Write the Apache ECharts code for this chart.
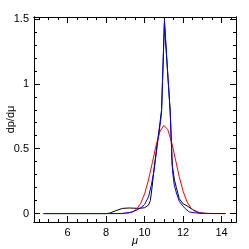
<!DOCTYPE html>
<html>
<head>
<meta charset="utf-8">
<script src="https://cdn.jsdelivr.net/npm/echarts@6/dist/echarts.min.js"></script>
<style>html,body{margin:0;padding:0;background:#fff}#c{width:249px;height:249px}</style>
</head>
<body>
<div id="c"></div>
<script>
// x positions and values
var blackX = [4.75, 8.0, 8.2, 8.5, 8.85, 9.2, 9.7, 10.0, 10.2, 10.3, 10.4, 10.5, 10.65, 10.8, 10.88, 11.03, 11.18, 11.33, 11.43, 11.55, 11.65, 11.8, 12.0, 12.2, 12.5, 12.85, 13.2, 14.2];
var blackY = [0, 0, 0.004, 0.022, 0.04, 0.043, 0.04, 0.045, 0.065, 0.1, 0.22, 0.36, 0.53, 0.7, 0.8, 1.47, 1.12, 0.79, 0.38, 0.26, 0.2, 0.115, 0.075, 0.06, 0.03, 0.006, 0.001, 0];
var redX = [4.75, 8.6, 9.0, 9.2, 9.4, 9.6, 9.8, 10.0, 10.2, 10.4, 10.6, 10.8, 11.0, 11.2, 11.4, 11.6, 11.8, 12.0, 12.2, 12.4, 12.6, 12.8, 13.0, 13.4, 14.2];
var redY = [0, 0, 0.002, 0.006, 0.015, 0.037, 0.08, 0.152, 0.259, 0.391, 0.528, 0.634, 0.68, 0.648, 0.552, 0.419, 0.284, 0.172, 0.093, 0.044, 0.019, 0.007, 0.002, 0, 0];
var blueX = [4.75, 8.8, 9.2, 9.4, 9.6, 9.8, 10.0, 10.2, 10.35, 10.5, 10.65, 10.8, 10.88, 11.03, 11.18, 11.33, 11.45, 11.54, 11.65, 11.8, 12.0, 12.14, 12.32, 12.66, 13.0, 14.2];
var blueY = [0, 0, 0.008, 0.015, 0.028, 0.045, 0.07, 0.128, 0.22, 0.34, 0.52, 0.68, 0.78, 1.49, 1.13, 0.78, 0.33, 0.22, 0.16, 0.095, 0.055, 0.035, 0.012, 0.005, 0.001, 0];
var xMajor = [6, 8, 10, 12, 14];
var xMinor = [4.5, 5, 5.5, 6.5, 7, 7.5, 8.5, 9, 9.5, 10.5, 11, 11.5, 12.5, 13, 13.5, 14.5];
var yMajor = [0, 0.5, 1, 1.5];
var yMinor = [0.1, 0.2, 0.3, 0.4, 0.6, 0.7, 0.8, 0.9, 1.1, 1.2, 1.3, 1.4];

function pairs(xs, ys){ return xs.map(function(x,i){ return [x, ys[i]]; }); }

var XMIN = 4.25, XMAX = 14.75, YMIN = -0.065, YMAX = 1.515;
var font = 'Liberation Sans, Arial, Helvetica, sans-serif';

function xa(pos, vals, len, opts){
  var o = {type:'value', min:XMIN, max:XMAX, position:pos, offset:0, splitLine:{show:false},
    axisLine:{show:true, onZero:false, lineStyle:{color:'#000', width:1}},
    axisTick:{show:true, inside:true, length:len, customValues:vals, lineStyle:{color:'#000', width:1}},
    axisLabel:{show:false}};
  for (var k in opts) o[k] = opts[k];
  return o;
}
function ya(pos, vals, len, opts){
  var o = {type:'value', min:YMIN, max:YMAX, position:pos, offset:0, splitLine:{show:false},
    axisLine:{show:true, onZero:false, lineStyle:{color:'#000', width:1}},
    axisTick:{show:true, inside:true, length:len, customValues:vals, lineStyle:{color:'#000', width:1}},
    axisLabel:{show:false}};
  for (var k in opts) o[k] = opts[k];
  return o;
}

var chart = echarts.init(document.getElementById('c'), null, {renderer:'canvas'});
chart.setOption({
  animation:false,
  backgroundColor:'#fff',
  grid:{left:34, right:13, top:17, bottom:27, containLabel:false, outerBoundsMode:'none'},
  xAxis:[
    xa('bottom', xMajor, 6, {
      axisLabel:{show:true, customValues:xMajor, color:'#000', fontSize:11, fontFamily:font, margin:5},
      name:'μ', nameLocation:'middle', nameGap:13, nameMoveOverlap:false,
      nameTextStyle:{color:'#000', fontSize:11, fontStyle:'italic', fontFamily:font}
    }),
    xa('bottom', xMinor, 3, {}),
    xa('top', xMajor, 6, {}),
    xa('top', xMinor, 3, {})
  ],
  yAxis:[
    ya('left', yMajor, 6, {
      axisLabel:{show:true, customValues:yMajor, color:'#000', fontSize:11, fontFamily:font, margin:5},
      name:'dp/dμ', nameLocation:'middle', nameGap:18, nameMoveOverlap:false,
      nameTextStyle:{color:'#000', fontSize:11, fontFamily:font}
    }),
    ya('left', yMinor, 3, {}),
    ya('right', yMajor, 6, {}),
    ya('right', yMinor, 3, {})
  ],
  series:[
    {type:'line', xAxisIndex:0, yAxisIndex:0, data:pairs(blackX, blackY), symbol:'none', lineStyle:{color:'#000', width:1}, z:2},
    {type:'line', xAxisIndex:0, yAxisIndex:0, data:pairs(redX, redY), symbol:'none', lineStyle:{color:'#ff0000', width:1}, z:3},
    {type:'line', xAxisIndex:0, yAxisIndex:0, data:pairs(blueX, blueY), symbol:'none', lineStyle:{color:'#0000ff', width:1}, z:4}
  ]
});
</script>
</body>
</html>
